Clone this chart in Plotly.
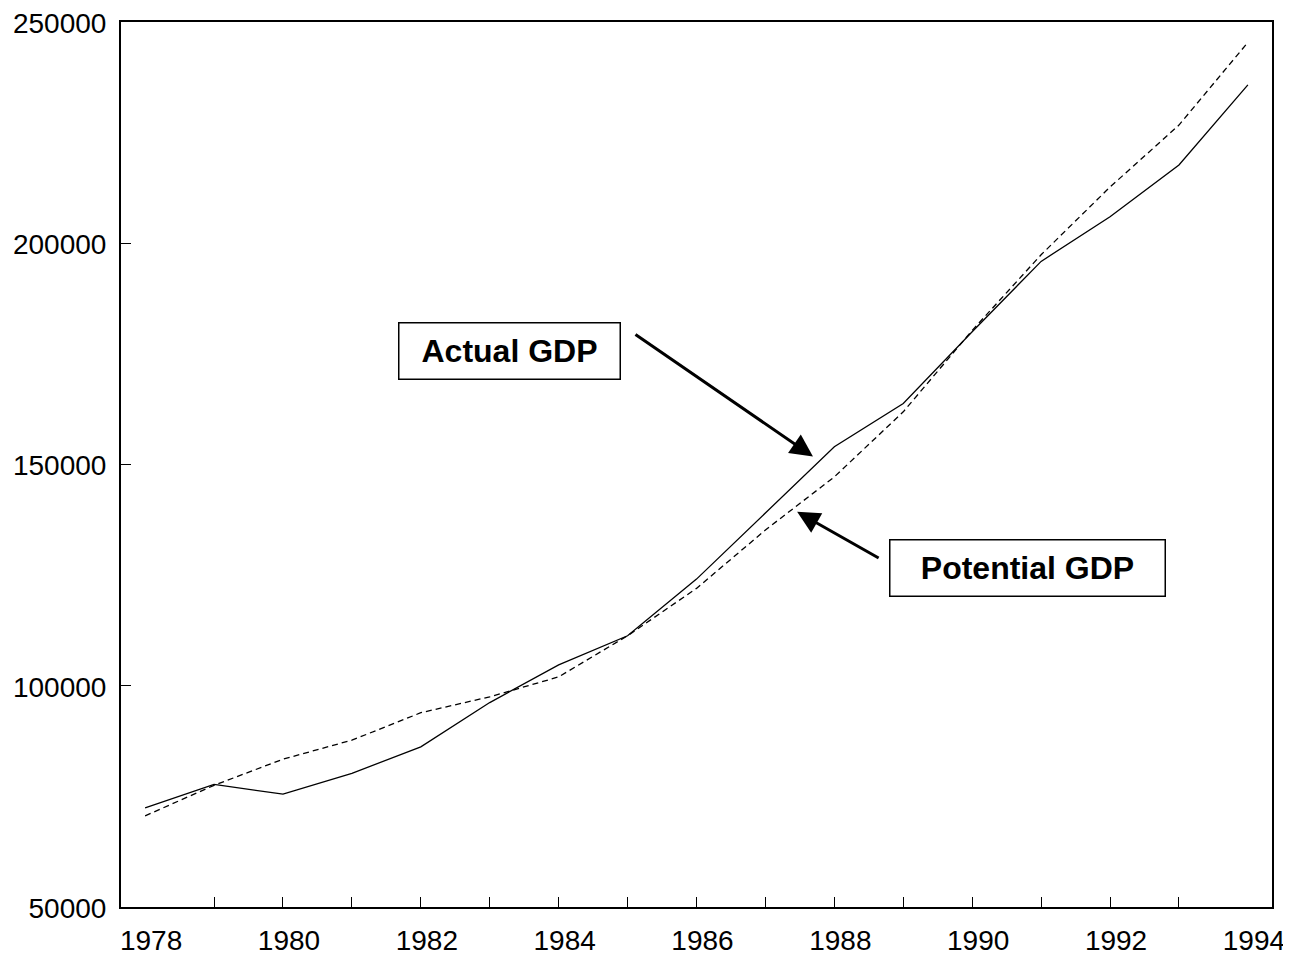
import plotly.graph_objects as go

years = list(range(1978, 1995))
actual_gdp = [72400, 77700, 75500, 80200, 86200, 96200, 104700, 111300, 124100,
              139000, 154000, 163800, 180000, 195900, 206000, 217700, 235800]
potential_gdp = [70600, 77500, 83400, 87700, 93900, 97500, 102000, 111300, 122000,
                 135200, 147200, 161900, 180300, 197400, 212700, 226700, 245400]
x_label_vals = list(range(1978, 1995, 2))
x_tick_vals = list(range(1979, 1994))
y_tick_vals = [50000, 100000, 150000, 200000, 250000]

FONT = "Arial, 'Liberation Sans', sans-serif"

# page body has an 8px default margin: shrink the figure so the plot area lands
# at the same screen pixels as the reference (plot area 121..1272 x 22..907)
fig = go.Figure()
fig.add_trace(go.Scatter(x=years, y=actual_gdp, mode="lines", name="Actual GDP",
                         line=dict(color="black", width=1.3), showlegend=False))
fig.add_trace(go.Scatter(x=years, y=potential_gdp, mode="lines", name="Potential GDP",
                         line=dict(color="black", width=1.3, dash="6px,4px"), showlegend=False))
# invisible trace for the label axis
fig.add_trace(go.Scatter(x=[years[0]], y=[actual_gdp[0]], mode="markers", xaxis="x2",
                         marker=dict(opacity=0), showlegend=False, hoverinfo="skip"))

xr = [1977.65, 1994.35]
fig.update_layout(
    width=1283, height=950,
    margin=dict(l=113, r=19, t=14, b=51, autoexpand=False),
    paper_bgcolor="white", plot_bgcolor="white",
    font=dict(family=FONT, size=28, color="black"),
    xaxis=dict(range=xr, tickvals=x_tick_vals, showticklabels=False,
               ticks="inside", ticklen=10, tickwidth=1.3, tickcolor="black",
               showline=True, linecolor="black", linewidth=2, mirror=True,
               showgrid=False, zeroline=False),
    xaxis2=dict(range=xr, overlaying="x", side="bottom", anchor="y",
                tickvals=x_label_vals, ticktext=[str(v) for v in x_label_vals],
                ticks="", showline=False, showgrid=False, zeroline=False,
                ticklabelstandoff=14, ticklabelshift=6, ticklabeloverflow="allow",
                tickfont=dict(family=FONT, size=28, color="black")),
    yaxis=dict(range=[50000, 250000], tickvals=y_tick_vals,
               ticktext=[str(v) for v in y_tick_vals],
               ticks="inside", ticklen=10, tickwidth=1.3, tickcolor="black",
               showline=True, linecolor="black", linewidth=2, mirror=True,
               showgrid=False, zeroline=False, ticklabelstandoff=7, ticklabelshift=1,
               ticklabeloverflow="allow",
               tickfont=dict(family=FONT, size=28, color="black")),
)

box_font = dict(family=FONT, size=32, color="black")
fig.add_annotation(text="<b>Actual GDP</b>", xref="paper", yref="paper",
                   x=(510 - 121) / 1151, y=(907 - 351) / 885, xanchor="center", yanchor="middle",
                   showarrow=False, font=box_font, bgcolor="white",
                   bordercolor="black", borderwidth=1.5, borderpad=2, width=216, height=51)
fig.add_annotation(text="<b>Potential GDP</b>", xref="paper", yref="paper",
                   x=(1027 - 121) / 1151, y=(907 - 568) / 885, xanchor="center", yanchor="middle",
                   showarrow=False, font=box_font, bgcolor="white",
                   bordercolor="black", borderwidth=1.5, borderpad=2, width=270, height=51)

# arrows
fig.add_annotation(text="", x=1987.69, y=151800, xref="x", yref="y",
                   ax=-179, ay=-123, axref="pixel", ayref="pixel",
                   showarrow=True, arrowhead=2, arrowsize=1.5, arrowwidth=3, arrowcolor="black")
fig.add_annotation(text="", x=1987.46, y=139300, xref="x", yref="y",
                   ax=83, ay=47, axref="pixel", ayref="pixel",
                   showarrow=True, arrowhead=2, arrowsize=1.5, arrowwidth=3, arrowcolor="black")

fig.write_html("out.html")
